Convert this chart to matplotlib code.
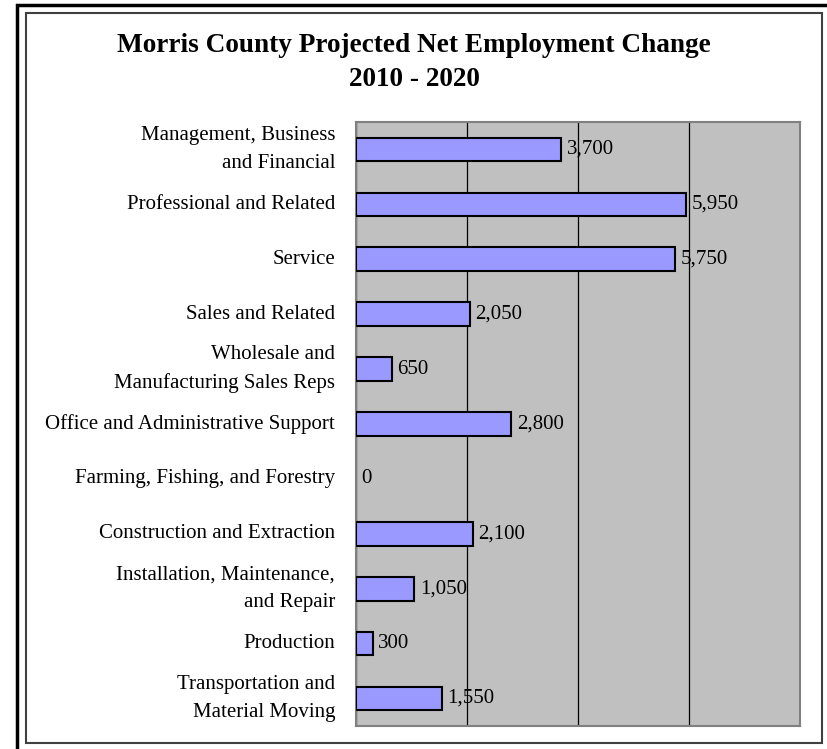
import matplotlib.pyplot as plt
from matplotlib.patches import Rectangle
from matplotlib.ticker import MultipleLocator

# Occupations, top to bottom
categories = [
    'Management, Business\nand Financial',
    'Professional and Related',
    'Service',
    'Sales and Related',
    'Wholesale and\nManufacturing Sales Reps',
    'Office and Administrative Support',
    'Farming, Fishing, and Forestry',
    'Construction and Extraction',
    'Installation, Maintenance,\nand Repair',
    'Production',
    'Transportation and\nMaterial Moving',
]
net_change = [3700, 5950, 5750, 2050, 650, 2800, 0, 2100, 1050, 300, 1550]

plt.rcParams['font.family'] = 'Liberation Serif'

fig = plt.figure(figsize=(8.28, 7.49), dpi=100)
W, H = 828, 749

# outer thick frame and inner chart-area frame
fig.add_artist(Rectangle((17 / W, -0.1), 1.2, 1 - 5 / H + 0.1, transform=fig.transFigure,
                         fill=False, edgecolor='black', linewidth=2.5))
fig.add_artist(Rectangle((26 / W, 1 - 743 / H), (822 - 26) / W, (743 - 13) / H,
                         transform=fig.transFigure, fill=False, edgecolor='#404040', linewidth=1.5))

ax = fig.add_axes([356 / W, 1 - 726 / H, (800 - 356) / W, (726 - 122) / H])
ax.set_facecolor('#C0C0C0')

y = list(range(len(categories)))
edge_w = [1.5 if v else 0 for v in net_change]
ax.barh(y, net_change, height=0.43, color='#9999FF', edgecolor='black', linewidth=edge_w, zorder=3)

for yi, v in zip(y, net_change):
    ax.text(v + 100, yi, f'{v:,}', va='center', ha='left', fontsize=15, zorder=4)

ax.set_xlim(0, 8000)
ax.set_ylim(len(categories) - 0.5, -0.5)
ax.xaxis.set_major_locator(MultipleLocator(2000))
ax.grid(axis='x', color='black', linewidth=0.9, zorder=1)
ax.set_xticklabels([])
ax.tick_params(axis='x', length=0)
ax.set_yticks(y)
ax.set_yticklabels(categories, fontsize=15, linespacing=1.65, va='center')
ax.tick_params(axis='y', length=0, pad=15)
for s in ax.spines.values():
    s.set_color('#808080')
    s.set_linewidth(1.5)

fig.text(0.5, 1 - 45 / H, 'Morris County Projected Net Employment Change',
         ha='center', va='center', fontsize=19.6, fontweight='bold')
fig.text(0.5, 1 - 80 / H, '2010 - 2020', ha='center', va='center', fontsize=19.6, fontweight='bold')

fig.savefig('out.png', dpi=100)
